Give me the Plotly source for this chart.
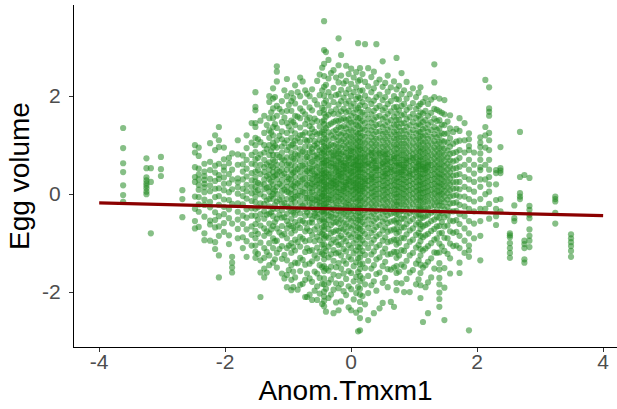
import plotly.graph_objects as go

# ---- data: scatter points, grouped in vertical columns (x value -> list of y values) ----
left_col_x = [-3.62, -3.25, -3.18, -3.02, -2.68]
left_col_y = [
    [1.35, 0.94, 0.63, 0.45, 0.18, -0.02, -0.16],
    [0.73, 0.53, 0.34, 0.28, 0.22, 0.17, 0.12, 0.05, 0.0],
    [0.53, 0.25, -0.8],
    [0.76, 0.51, 0.37],
    [0.08, -0.1, -0.47],
]

midleft_col_x = [-2.48, -2.42, -2.33, -2.24, -2.16, -2.1, -2.02, -1.94, -1.89, -1.8, -1.72, -1.66,
                 -1.58, -1.52, -1.48, -1.44, -1.38, -1.34, -1.3, -1.27, -1.24, -1.21, -1.18,
                 -1.14, -1.1, -1.06, -1.02, -0.99, -0.95, -0.92, -0.89, -0.85, -0.81, -0.77,
                 -0.73, -0.7, -0.66]
midleft_col_y = [
    [1.0, 0.85, 0.55, 0.35, 0.25, -0.05, -0.3, -0.55, -0.7],
    [0.95, 0.78, 0.52, 0.4, 0.3, 0.19, 0.09, -0.06, -0.21, -0.36, -0.67],
    [0.62, 0.46, 0.37, 0.29, 0.21, 0.14, 0.04, -0.11, -0.22, -0.46, -0.8, -0.94],
    [1.04, 0.66, 0.49, 0.31, 0.18, 0.06, -0.16, -0.27, -0.54, -0.62, -0.95],
    [1.2, 0.9, 0.58, 0.44, 0.27, 0.11, -0.06, -0.37, -0.53, -0.68, -0.98, -1.12],
    [1.37, 1.1, 0.96, 0.62, 0.39, 0.31, 0.12, -0.04, -0.22, -0.45, -0.66, -0.85, -1.25, -1.7],
    [0.95, 0.71, 0.56, 0.48, 0.34, 0.21, 0.08, -0.11, -0.26, -0.41, -0.59, -0.77],
    [0.74, 0.63, 0.41, 0.22, 0.04, -0.12, -0.31, -0.49, -0.84, -1.02],
    [0.83, 0.5, 0.3, 0.1, -0.2, -0.6, -1.28, -1.4, -1.5, -1.6],
    [1.1, 0.81, 0.6, 0.32, 0.24, 0.14, 0.01, -0.19, -0.36, -0.52, -0.71, -0.9],
    [0.79, 0.61, 0.46, 0.3, 0.11, -0.04, -0.21, -0.44, -0.61, -0.88, -1.1],
    [1.2, 0.94, 0.7, 0.52, 0.36, 0.19, 0.06, -0.09, -0.31, -0.48, -0.72, -0.96, -1.28],
    [1.45, 1.05, 0.8, 0.62, 0.43, 0.28, 0.15, 0.02, -0.14, -0.29, -0.44, -0.66, -0.83, -1.05],
    [2.08, 1.78, 1.71, 1.45, 1.37, 1.15, 1.0, 0.86, 0.71, 0.6, 0.46, 0.35, 0.26, 0.15, 0.05,
     -0.05, -0.16, -0.3, -0.44, -0.61, -0.75, -0.9, -1.05, -1.18, -1.3],
    [1.12, 0.74, 0.49, 0.23, 0.08, -0.27, -0.52, -0.81, -1.22],
    [1.5, 1.06, 0.81, 0.6, 0.41, 0.2, 0.0, -0.19, -0.41, -0.64, -0.99, -1.35, -1.6, -2.1],
    [1.6, 1.25, 1.0, 0.85, 0.7, 0.55, 0.45, 0.3, 0.2, 0.1, -0.05, -0.2, -0.35, -0.5, -0.7,
     -0.85, -1.1, -1.3, -1.52, -1.7],
    [1.41, 0.92, 0.61, 0.37, 0.13, -0.13, -0.42, -0.76, -1.18, -1.6],
    [2.0, 1.88, 1.55, 1.3, 1.15, 1.0, 0.8, 0.65, 0.5, 0.4, 0.3, 0.15, 0.05, -0.1, -0.25, -0.4,
     -0.6, -0.8, -1.0, -1.25, -1.45],
    [1.67, 1.26, 0.88, 0.58, 0.26, -0.04, -0.37, -0.72],
    [2.16, 1.95, 1.75, 1.55, 1.37, 1.2, 1.05, 0.95, 0.8, 0.7, 0.55, 0.45, 0.35, 0.2, 0.1, 0.0,
     -0.1, -0.3, -0.45, -0.65, -0.9, -1.1, -1.4],
    [1.98, 1.43, 0.99, 0.67, 0.38, 0.07, -0.22, -0.57, -0.96, -1.33],
    [2.61, 2.5, 2.3, 1.8, 1.6, 1.35, 1.1, 0.95, 0.8, 0.6, 0.5, 0.4, 0.3, 0.15, 0.0, -0.15, -0.3,
     -0.5, -0.7, -0.95, -1.2, -1.5],
    [1.74, 1.19, 0.76, 0.46, 0.21, -0.11, -0.42, -0.78, -1.12],
    [1.9, 1.68, 1.47, 1.28, 1.12, 0.97, 0.84, 0.72, 0.61, 0.5, 0.39, 0.28, 0.17, 0.06, -0.06,
     -0.19, -0.33, -0.48, -0.65, -0.84, -1.06, -1.32, -1.62],
    [2.12, 1.56, 1.04, 0.69, 0.42, 0.09, -0.18, -0.47, -0.81, -1.24, -1.72],
    [2.35, 2.0, 1.7, 1.45, 1.25, 1.1, 0.9, 0.75, 0.6, 0.5, 0.35, 0.25, 0.15, 0.05, -0.1, -0.25,
     -0.4, -0.55, -0.7, -0.9, -1.1, -1.35, -1.65, -1.9],
    [1.82, 1.38, 0.96, 0.63, 0.31, 0.03, -0.28, -0.62, -1.05, -1.55],
    [2.06, 1.9, 1.7, 1.5, 1.3, 1.15, 1.0, 0.85, 0.75, 0.6, 0.5, 0.4, 0.3, 0.2, 0.1, 0.0, -0.1,
     -0.2, -0.35, -0.5, -0.65, -0.8, -1.0, -1.2, -1.45, -1.75, -1.96],
    [1.96, 1.47, 1.03, 0.72, 0.44, 0.17, -0.09, -0.38, -0.69, -1.08, -1.58, -1.9],
    [2.22, 1.85, 1.6, 1.41, 1.24, 1.09, 0.95, 0.82, 0.69, 0.57, 0.46, 0.35, 0.24, 0.14, 0.04,
     -0.06, -0.17, -0.29, -0.42, -0.57, -0.74, -0.93, -1.15, -1.4, -1.7],
    [2.08, 1.58, 1.14, 0.79, 0.51, 0.22, -0.03, -0.32, -0.63, -0.98, -1.41, -1.95],
    [2.38, 2.0, 1.75, 1.55, 1.36, 1.2, 1.06, 0.92, 0.8, 0.68, 0.57, 0.46, 0.36, 0.26, 0.16, 0.06,
     -0.04, -0.15, -0.26, -0.39, -0.53, -0.69, -0.87, -1.07, -1.3, -1.57, -1.85],
    [2.3, 1.69, 1.21, 0.87, 0.58, 0.3, 0.04, -0.24, -0.55, -0.91, -1.34, -1.83],
    [2.12, 1.87, 1.63, 1.43, 1.26, 1.11, 0.97, 0.85, 0.73, 0.62, 0.52, 0.42, 0.32, 0.22, 0.12,
     0.02, -0.08, -0.19, -0.31, -0.44, -0.59, -0.76, -0.96, -1.18, -1.44, -1.75, -2.1],
    [2.05, 1.52, 1.08, 0.76, 0.47, 0.19, -0.08, -0.37, -0.7, -1.1, -1.62, -2.1],
    [2.0, 1.77, 1.56, 1.39, 1.24, 1.1, 0.97, 0.85, 0.74, 0.63, 0.53, 0.43, 0.33, 0.23, 0.13, 0.03,
     -0.07, -0.18, -0.3, -0.43, -0.58, -0.75, -0.94, -1.16, -1.42, -1.72, -2.05],
]

center_col_x = [-0.62, -0.58, -0.54, -0.5, -0.46, -0.43, -0.4, -0.36, -0.32, -0.28, -0.24, -0.2,
                -0.16, -0.12, -0.08, -0.04, 0.0, 0.04, 0.08, 0.11, 0.14, 0.18, 0.22, 0.27, 0.32,
                0.36, 0.4, 0.45, 0.5, 0.54, 0.58, 0.63, 0.68, 0.72, 0.76, 0.8, 0.84, 0.88, 0.93,
                0.98, 1.03, 1.07, 1.1, 1.14, 1.18, 1.22, 1.27, 1.32, 1.36, 1.4, 1.44, 1.48,
                1.53, 1.57, 1.62, 1.67, 1.72, 1.8, 1.87, 1.95]
center_col_y = [
    [2.14, 1.71, 1.33, 1.18, 0.93, 0.86, 0.52, 0.47, 0.31, 0.12, 0.04, -0.18, -0.27, -0.51, -0.58,
     -0.83, -1.14, -1.37, -1.79, -2.16, 0.66, 0.21, -0.09, 1.46],
    [1.92, 1.54, 1.27, 0.99, 0.78, 0.69, 0.41, 0.37, 0.16, -0.02, -0.13, -0.39, -0.44, -0.72,
     -0.96, -1.25, -1.58, -1.97, 0.58, 0.25, -0.31, 1.08],
    [2.31, 1.83, 1.49, 1.22, 1.03, 0.81, 0.73, 0.55, 0.44, 0.29, 0.19, 0.07, -0.06, -0.21, -0.33,
     -0.47, -0.66, -0.87, -1.09, -1.31, -1.62, -1.88, -2.16, 0.95, 0.36, -0.12],
    [2.44, 2.02, 1.66, 1.38, 1.11, 0.89, 0.63, 0.51, 0.39, 0.22, 0.14, 0.03, -0.08, -0.24, -0.41,
     -0.55, -0.78, -0.94, -1.18, -1.45, -1.71, -2.03, 0.76, 0.28, -0.17, 1.24],
    [2.58, 2.12, 1.76, 1.48, 1.27, 1.06, 0.92, 0.71, 0.62, 0.48, 0.33, 0.26, 0.11, 0.0, -0.14,
     -0.29, -0.36, -0.52, -0.68, -0.81, -1.03, -1.22, -1.49, -1.83, -2.24, 0.84, 0.41, -0.04],
    [3.53, 2.94, 2.66, 2.41, 2.19, 2.01, 1.86, 1.72, 1.64, 1.51, 1.43, 1.31, 1.22, 1.16, 1.04,
     0.98, 0.87, 0.82, 0.71, 0.64, 0.57, 0.5, 0.43, 0.38, 0.29, 0.24, 0.17, 0.1, 0.03, -0.04,
     -0.11, -0.2, -0.25, -0.34, -0.4, -0.5, -0.56, -0.66, -0.73, -0.84, -0.91, -1.03, -1.11,
     -1.24, -1.33, -1.47, -1.57, -1.72, -1.84, -1.99, -2.09, -2.18, -2.29],
    [2.9, 2.23, 1.91, 1.58, 1.35, 1.13, 0.95, 0.77, 0.6, 0.45, 0.34, 0.2, 0.06, -0.07, -0.19,
     -0.38, -0.61, -0.86, -1.16, -1.52, -1.93, -2.4, 0.68, 0.15, -0.28],
    [2.74, 2.36, 2.08, 1.81, 1.62, 1.41, 1.26, 1.09, 0.97, 0.83, 0.7, 0.59, 0.49, 0.36, 0.27,
     0.18, 0.07, -0.03, -0.16, -0.26, -0.43, -0.53, -0.71, -0.89, -1.07, -1.29, -1.56, -1.81,
     -2.12, 0.91, 0.4, -0.1],
    [2.47, 1.99, 1.69, 1.44, 1.2, 1.01, 0.85, 0.72, 0.56, 0.43, 0.3, 0.23, 0.09, -0.02, -0.12,
     -0.3, -0.46, -0.63, -0.8, -1.01, -1.23, -1.48, -1.74, -2.05, 0.64, 0.16, -0.37],
    [2.53, 2.17, 1.88, 1.64, 1.47, 1.28, 1.14, 0.99, 0.88, 0.76, 0.63, 0.54, 0.42, 0.32, 0.21,
     0.13, 0.02, -0.09, -0.21, -0.32, -0.48, -0.58, -0.77, -0.93, -1.14, -1.36, -1.64, -1.95,
     -2.43, 0.79, 0.27],
    [2.38, 2.02, 1.73, 1.5, 1.31, 1.17, 1.02, 0.9, 0.78, 0.66, 0.53, 0.46, 0.35, 0.25, 0.14,
     0.05, -0.05, -0.17, -0.28, -0.42, -0.57, -0.74, -0.98, -1.21, -1.49, -1.82, -2.21, 0.58,
     0.19],
    [3.18, 2.63, 2.28, 2.04, 1.83, 1.63, 1.49, 1.37, 1.24, 1.1, 0.97, 0.87, 0.74, 0.68, 0.55,
     0.47, 0.38, 0.31, 0.22, 0.12, 0.04, -0.06, -0.14, -0.27, -0.35, -0.49, -0.6, -0.75, -0.88,
     -1.04, -1.19, -1.41, -1.67, -1.92, -2.37, 0.83, 0.43],
    [2.84, 2.42, 2.13, 1.9, 1.69, 1.52, 1.36, 1.21, 1.08, 0.95, 0.82, 0.71, 0.61, 0.51, 0.41,
     0.28, 0.2, 0.08, -0.01, -0.1, -0.23, -0.38, -0.52, -0.69, -0.85, -1.02, -1.25, -1.52,
     -1.83, -2.19, 0.35, 0.65],
    [2.26, 1.97, 1.74, 1.55, 1.39, 1.25, 1.12, 0.99, 0.86, 0.77, 0.64, 0.57, 0.44, 0.37, 0.25,
     0.16, 0.06, -0.04, -0.15, -0.3, -0.41, -0.58, -0.72, -0.91, -1.12, -1.36, -1.62, -1.98,
     0.5, 0.11],
    [2.62, 2.31, 2.06, 1.85, 1.67, 1.51, 1.34, 1.19, 1.06, 0.94, 0.84, 0.72, 0.63, 0.52, 0.45,
     0.33, 0.24, 0.14, 0.03, -0.08, -0.19, -0.33, -0.45, -0.61, -0.77, -0.96, -1.17, -1.42,
     -1.73, -2.06, 0.58, 0.19, -0.26],
    [2.45, 2.14, 1.9, 1.7, 1.53, 1.41, 1.27, 1.15, 1.02, 0.91, 0.79, 0.69, 0.6, 0.49, 0.39, 0.31,
     0.2, 0.1, 0.0, -0.12, -0.22, -0.36, -0.5, -0.66, -0.83, -1.04, -1.28, -1.57, -1.88, -2.31,
     0.74, 0.27],
    [2.56, 2.25, 2.0, 1.79, 1.6, 1.46, 1.3, 1.17, 1.05, 0.93, 0.81, 0.73, 0.62, 0.54, 0.43, 0.35,
     0.26, 0.15, 0.07, -0.03, -0.14, -0.26, -0.4, -0.54, -0.7, -0.88, -1.1, -1.33, -1.61, -1.94,
     -2.37, 0.47, 0.88],
    [2.38, 2.08, 1.85, 1.66, 1.48, 1.34, 1.2, 1.08, 0.96, 0.86, 0.75, 0.66, 0.55, 0.46, 0.38,
     0.28, 0.18, 0.09, -0.01, -0.1, -0.24, -0.35, -0.49, -0.64, -0.81, -1.0, -1.21, -1.47,
     -1.78, -2.15, 0.6, 0.23],
    [2.49, 2.18, 1.94, 1.73, 1.57, 1.42, 1.26, 1.13, 1.01, 0.9, 0.78, 0.7, 0.59, 0.5, 0.4, 0.32,
     0.22, 0.11, 0.04, -0.07, -0.17, -0.29, -0.44, -0.58, -0.74, -0.93, -1.15, -1.39, -1.69,
     -2.02, -2.42, 0.67, 0.14],
    [3.08, 2.3, 1.99, 1.76, 1.55, 1.39, 1.23, 1.1, 0.98, 0.88, 0.76, 0.64, 0.57, 0.45, 0.36,
     0.27, 0.19, 0.08, -0.02, -0.13, -0.25, -0.38, -0.53, -0.69, -0.87, -1.08, -1.31, -1.59,
     -1.9, -2.8, 0.52],
    [2.57, 2.33, 2.11, 1.96, 1.81, 1.68, 1.56, 1.45, 1.33, 1.25, 1.16, 1.07, 0.97, 0.91, 0.81,
     0.75, 0.67, 0.58, 0.5, 0.45, 0.36, 0.3, 0.21, 0.16, 0.07, 0.01, -0.08, -0.13, -0.23, -0.29,
     -0.37, -0.47, -0.53, -0.64, -0.71, -0.82, -0.89, -1.01, -1.09, -1.21, -1.3, -1.43, -1.53,
     -1.67, -1.78, -1.93, -2.05, -2.2, -2.36, -2.53, -2.78],
    [2.45, 2.12, 1.88, 1.67, 1.5, 1.34, 1.19, 1.06, 0.94, 0.84, 0.72, 0.63, 0.52, 0.44, 0.34,
     0.25, 0.16, 0.06, -0.04, -0.15, -0.27, -0.42, -0.57, -0.75, -0.94, -1.16, -1.42, -1.72,
     -2.08, 0.59, 0.11],
    [3.06, 2.29, 2.01, 1.8, 1.62, 1.45, 1.31, 1.17, 1.04, 0.92, 0.81, 0.69, 0.6, 0.49, 0.4, 0.31,
     0.21, 0.13, 0.02, -0.09, -0.2, -0.33, -0.47, -0.62, -0.81, -1.01, -1.24, -1.51, -1.84,
     -2.25, 0.75, 0.27],
    [2.57, 2.2, 1.93, 1.72, 1.54, 1.38, 1.24, 1.1, 0.98, 0.87, 0.77, 0.65, 0.56, 0.46, 0.37,
     0.27, 0.18, 0.09, -0.02, -0.12, -0.24, -0.37, -0.52, -0.69, -0.88, -1.1, -1.36, -1.67,
     -2.02, -2.57, 0.62],
    [2.39, 2.08, 1.84, 1.63, 1.46, 1.3, 1.16, 1.03, 0.91, 0.8, 0.7, 0.59, 0.5, 0.4, 0.3, 0.22,
     0.12, 0.03, -0.07, -0.19, -0.31, -0.45, -0.61, -0.79, -1.0, -1.23, -1.52, -1.86, 0.85,
     0.35],
    [2.5, 2.16, 1.91, 1.7, 1.52, 1.37, 1.22, 1.09, 0.97, 0.85, 0.74, 0.64, 0.54, 0.45, 0.34,
     0.25, 0.15, 0.05, -0.04, -0.14, -0.26, -0.4, -0.55, -0.73, -0.93, -1.17, -1.45, -1.78,
     -2.43, 0.68],
    [3.06, 2.27, 1.98, 1.76, 1.57, 1.41, 1.27, 1.13, 1.01, 0.9, 0.79, 0.68, 0.58, 0.48, 0.39,
     0.29, 0.19, 0.1, 0.0, -0.1, -0.22, -0.35, -0.5, -0.67, -0.86, -1.08, -1.33, -1.63, -1.97,
     0.53],
    [2.34, 2.03, 1.8, 1.6, 1.43, 1.28, 1.15, 1.02, 0.9, 0.79, 0.69, 0.58, 0.49, 0.39, 0.3, 0.21,
     0.11, 0.01, -0.09, -0.2, -0.33, -0.47, -0.63, -0.82, -1.04, -1.29, -1.6, -2.33, 0.83],
    [2.71, 2.19, 1.92, 1.71, 1.53, 1.37, 1.23, 1.1, 0.97, 0.86, 0.75, 0.65, 0.55, 0.45, 0.36,
     0.27, 0.17, 0.08, -0.03, -0.13, -0.26, -0.4, -0.56, -0.74, -0.95, -1.19, -1.47, -1.81,
     -2.22, 0.62],
    [2.27, 1.98, 1.76, 1.57, 1.41, 1.26, 1.13, 1.0, 0.88, 0.77, 0.67, 0.57, 0.47, 0.37, 0.28,
     0.18, 0.09, -0.01, -0.11, -0.23, -0.36, -0.51, -0.68, -0.88, -1.11, -1.38, -1.71, 0.81,
     0.42],
    [2.42, 2.09, 1.84, 1.64, 1.47, 1.31, 1.18, 1.05, 0.93, 0.82, 0.72, 0.61, 0.52, 0.42, 0.33,
     0.23, 0.14, 0.04, -0.06, -0.17, -0.29, -0.43, -0.59, -0.77, -0.98, -1.23, -1.53, -1.9,
     0.67],
    [2.18, 1.9, 1.69, 1.51, 1.36, 1.22, 1.09, 0.97, 0.86, 0.75, 0.65, 0.55, 0.45, 0.36, 0.26,
     0.17, 0.07, -0.03, -0.14, -0.26, -0.4, -0.56, -0.74, -0.96, -1.22, -1.54, -2.2, 0.5],
    [2.3, 2.0, 1.77, 1.58, 1.42, 1.27, 1.14, 1.01, 0.89, 0.78, 0.68, 0.58, 0.48, 0.38, 0.28,
     0.19, 0.09, -0.01, -0.12, -0.24, -0.38, -0.54, -0.72, -0.93, -1.18, -1.5, -2.3, 0.73],
    [2.78, 2.14, 1.94, 1.78, 1.65, 1.52, 1.42, 1.31, 1.21, 1.12, 1.01, 0.93, 0.83, 0.75, 0.64,
     0.58, 0.47, 0.42, 0.32, 0.26, 0.16, 0.1, 0.0, -0.06, -0.16, -0.22, -0.33, -0.4, -0.51,
     -0.59, -0.71, -0.8, -0.93, -1.03, -1.18, -1.3, -1.47, -1.61, -1.81, -1.96],
    [2.21, 1.93, 1.71, 1.52, 1.37, 1.22, 1.09, 0.97, 0.85, 0.74, 0.64, 0.54, 0.44, 0.35, 0.25,
     0.15, 0.05, -0.05, -0.16, -0.28, -0.42, -0.58, -0.77, -0.99, -1.25, -1.58, 0.6],
    [2.47, 2.04, 1.8, 1.61, 1.44, 1.29, 1.16, 1.03, 0.91, 0.8, 0.7, 0.6, 0.5, 0.4, 0.31, 0.21,
     0.12, 0.02, -0.09, -0.21, -0.34, -0.5, -0.68, -0.89, -1.14, -1.44, -1.82, 0.45],
    [2.12, 1.84, 1.63, 1.45, 1.3, 1.16, 1.03, 0.91, 0.8, 0.69, 0.59, 0.49, 0.39, 0.29, 0.2, 0.1,
     0.0, -0.1, -0.22, -0.35, -0.5, -0.68, -0.9, -1.16, -1.48, -2.0, 0.55],
    [2.29, 1.95, 1.72, 1.53, 1.37, 1.22, 1.09, 0.97, 0.85, 0.74, 0.64, 0.54, 0.44, 0.34, 0.25,
     0.15, 0.06, -0.05, -0.16, -0.29, -0.44, -0.61, -0.82, -1.06, -1.36, -1.73, 0.69],
    [2.04, 1.77, 1.57, 1.41, 1.26, 1.13, 1.0, 0.88, 0.77, 0.67, 0.57, 0.47, 0.37, 0.27, 0.18,
     0.08, -0.02, -0.13, -0.25, -0.39, -0.55, -0.74, -0.97, -1.25, -1.6, -2.0, 0.42],
    [2.16, 1.86, 1.64, 1.47, 1.31, 1.17, 1.04, 0.92, 0.81, 0.7, 0.6, 0.5, 0.4, 0.31, 0.21, 0.11,
     0.01, -0.09, -0.21, -0.35, -0.51, -0.7, -0.93, -1.2, -1.55, 0.74],
    [1.98, 1.74, 1.55, 1.39, 1.24, 1.11, 0.98, 0.86, 0.75, 0.65, 0.55, 0.45, 0.35, 0.25, 0.15,
     0.06, -0.05, -0.16, -0.29, -0.44, -0.62, -0.83, -1.09, -1.42, -1.84, 0.5],
    [2.07, 1.8, 1.6, 1.43, 1.28, 1.14, 1.01, 0.89, 0.78, 0.67, 0.57, 0.47, 0.37, 0.28, 0.18, 0.08,
     -0.02, -0.13, -0.26, -0.41, -0.58, -0.79, -1.04, -1.35, -1.74, 0.62],
    [2.18, 1.84, 1.67, 1.54, 1.41, 1.27, 1.18, 1.07, 0.95, 0.87, 0.76, 0.69, 0.58, 0.51, 0.41,
     0.35, 0.25, 0.19, 0.09, 0.03, -0.07, -0.13, -0.24, -0.31, -0.42, -0.5, -0.62, -0.71, -0.85,
     -0.96, -1.12, -1.25, -1.44, -1.61, -1.86, -2.12],
    [1.88, 1.65, 1.47, 1.32, 1.18, 1.05, 0.93, 0.82, 0.71, 0.61, 0.51, 0.41, 0.31, 0.21, 0.12,
     0.02, -0.08, -0.2, -0.33, -0.48, -0.66, -0.88, -1.15, -1.5, -2.61, 0.56],
    [1.96, 1.7, 1.51, 1.35, 1.2, 1.07, 0.95, 0.84, 0.73, 0.63, 0.53, 0.43, 0.33, 0.23, 0.13,
     0.04, -0.06, -0.17, -0.3, -0.45, -0.63, -0.84, -1.11, -1.45, -1.9, 0.49],
    [1.84, 1.6, 1.42, 1.27, 1.13, 1.0, 0.88, 0.77, 0.66, 0.56, 0.46, 0.36, 0.26, 0.16, 0.06,
     -0.04, -0.15, -0.28, -0.43, -0.6, -0.81, -1.06, -1.38, -1.8, -2.43, 0.6],
    [1.93, 1.66, 1.47, 1.31, 1.17, 1.04, 0.92, 0.8, 0.69, 0.59, 0.49, 0.39, 0.29, 0.19, 0.09,
     -0.01, -0.12, -0.24, -0.38, -0.55, -0.75, -1.0, -1.31, -1.7],
    [2.65, 2.28, 1.98, 1.74, 1.54, 1.37, 1.22, 1.08, 0.95, 0.83, 0.72, 0.61, 0.51, 0.41, 0.31,
     0.21, 0.11, 0.01, -0.1, -0.22, -0.36, -0.52, -0.71, -0.93, -1.19, -1.52],
    [1.72, 1.49, 1.31, 1.16, 1.02, 0.9, 0.78, 0.67, 0.56, 0.46, 0.36, 0.26, 0.16, 0.06, -0.05,
     -0.17, -0.31, -0.47, -0.66, -0.9, -1.2],
    [1.95, 1.69, 1.51, 1.34, 1.2, 1.06, 0.94, 0.83, 0.72, 0.61, 0.52, 0.41, 0.34, 0.23, 0.16,
     0.05, -0.02, -0.14, -0.23, -0.37, -0.48, -0.65, -0.8, -1.01, -1.19, -1.41, -1.54, -1.71,
     -1.84, -2.01, -2.14, -2.3],
    [1.66, 1.42, 1.24, 1.09, 0.96, 0.84, 0.72, 0.61, 0.5, 0.4, 0.3, 0.2, 0.1, 0.0, -0.11, -0.24,
     -0.39, -0.57, -0.79, -1.07],
    [1.92, 1.63, 1.41, 1.23, 1.07, 0.93, 0.8, 0.68, 0.57, 0.46, 0.36, 0.26, 0.16, 0.06, -0.05,
     -0.17, -0.31, -0.47, -0.66, -0.89, -1.16, -1.51, -1.91, -2.57],
    [1.48, 1.24, 1.05, 0.89, 0.75, 0.62, 0.5, 0.38, 0.26, 0.14, 0.02, -0.11, -0.26, -0.43, -0.64,
     -0.9, -1.22],
    [1.61, 1.34, 1.14, 0.97, 0.82, 0.69, 0.56, 0.44, 0.32, 0.2, 0.08, -0.05, -0.19, -0.35, -0.54,
     -0.76, -1.01, -1.31, -1.62],
    [1.27, 1.03, 0.84, 0.67, 0.52, 0.38, 0.24, 0.11, -0.03, -0.18, -0.35, -0.55, -0.79, -1.06],
    [1.33, 1.07, 0.86, 0.69, 0.53, 0.39, 0.25, 0.12, -0.02, -0.17, -0.34, -0.53, -0.77, -1.05],
    [1.55, 1.29, 1.09, 0.9, 0.74, 0.56, 0.41, 0.25, 0.1, -0.05, -0.22, -0.41, -0.61, -0.85, -1.1,
     -1.4, -1.61],
    [1.45, 1.1, 0.85, 0.6, 0.35, 0.15, -0.05, -0.25, -0.45, -0.7, -0.95, -1.2],
    [1.24, 1.12, 0.98, 0.9, 0.7, 0.5, 0.3, 0.1, -0.1, -0.3, -0.55, -0.8, -1.05, -1.15, -1.28,
     -2.78],
    [0.85, 0.6, 0.42, 0.25, 0.05, -0.15, -0.35, -0.6, -0.9],
]

right_col_x = [2.05, 2.13, 2.19, 2.3, 2.37, 2.52, 2.59, 2.68, 2.75, 2.83, 3.24, 3.49]
right_col_y = [
    [1.16, 1.05, 0.96, 0.83, 0.7, 0.55, 0.49, 0.3, 0.15, -0.1, -0.3, -0.55, -0.85, -1.35],
    [2.33, 1.37, 1.2, 0.95, 0.6, 0.3, 0.0, -0.3],
    [2.18, 1.75, 1.68, 1.6, 1.25, 1.1, 0.9, 0.7, 0.5, 0.35, 0.2, 0.05, -0.2, -0.5],
    [0.49, 0.43, 0.2, -0.12, -0.3, -0.45, -0.63],
    [0.96, 0.53, 0.48, 0.43, -0.1, -0.35],
    [-0.8, -0.84, -0.88, -1.0, -1.1, -1.2, -1.3],
    [-0.23, -0.49, -0.55],
    [1.27, 0.35, 0.02, -0.05, -0.1],
    [0.39, -0.95, -1.02, -1.1, -1.33, -1.4],
    [0.33, -0.24, -0.32, -0.42, -0.49, -0.72, -0.85, -0.95, -1.08],
    [-0.05, -0.1, -0.15, -0.38, -0.6],
    [-0.82, -0.9, -0.98, -1.06, -1.16, -1.28],
]

# fitted regression line (end points)
fit_x = [-4.0, 4.0]
fit_y = [-0.18, -0.44]

x_ticks = [-4, -2, 0, 2, 4]
y_ticks = [-2, 0, 2]

# ---- flatten columns ----
pts_x, pts_y = [], []
for cx_list, cy_list in [(left_col_x, left_col_y), (midleft_col_x, midleft_col_y),
                         (center_col_x, center_col_y), (right_col_x, right_col_y)]:
    for cx, ys in zip(cx_list, cy_list):
        for yv in ys:
            pts_x.append(cx)
            pts_y.append(yv)

fig = go.Figure()
fig.add_trace(go.Scatter(
    x=pts_x, y=pts_y, mode="markers",
    marker=dict(size=6.2, color="#228B22", opacity=0.55, line=dict(width=0)),
    hoverinfo="skip", showlegend=False))
fig.add_trace(go.Scatter(
    x=fit_x, y=fit_y, mode="lines",
    line=dict(color="#8B0000", width=3.2), hoverinfo="skip", showlegend=False))

font_family = "Liberation Sans, Arial, sans-serif"
fig.update_layout(
    width=617, height=409,
    margin=dict(l=74, r=0, t=5, b=62),
    paper_bgcolor="white", plot_bgcolor="white",
    font=dict(family=font_family),
    showlegend=False,
    xaxis=dict(
        range=[-4.4, 4.22], tickvals=x_ticks, ticktext=[str(v) for v in x_ticks],
        showgrid=False, zeroline=False, showline=True, linecolor="#000000", linewidth=1,
        ticks="outside", ticklen=4, tickcolor="#333333", tickwidth=1,
        ticklabelstandoff=-8,
        tickfont=dict(size=21, color="#4D4D4D", family=font_family),
        title=dict(text="Anom.Tmxm1", font=dict(size=28, color="#000000", family=font_family),
                   standoff=8),
    ),
    yaxis=dict(
        range=[-3.12, 3.86], tickvals=y_ticks, ticktext=[str(v) for v in y_ticks],
        showgrid=False, zeroline=False, showline=True, linecolor="#000000", linewidth=1,
        ticks="outside", ticklen=4, tickcolor="#333333", tickwidth=1,
        ticklabelstandoff=4,
        tickfont=dict(size=21, color="#4D4D4D", family=font_family),
        title=dict(text="Egg volume", font=dict(size=28, color="#000000", family=font_family),
                   standoff=4),
    ),
)

fig.write_html("out.html", config={"displayModeBar": False})
